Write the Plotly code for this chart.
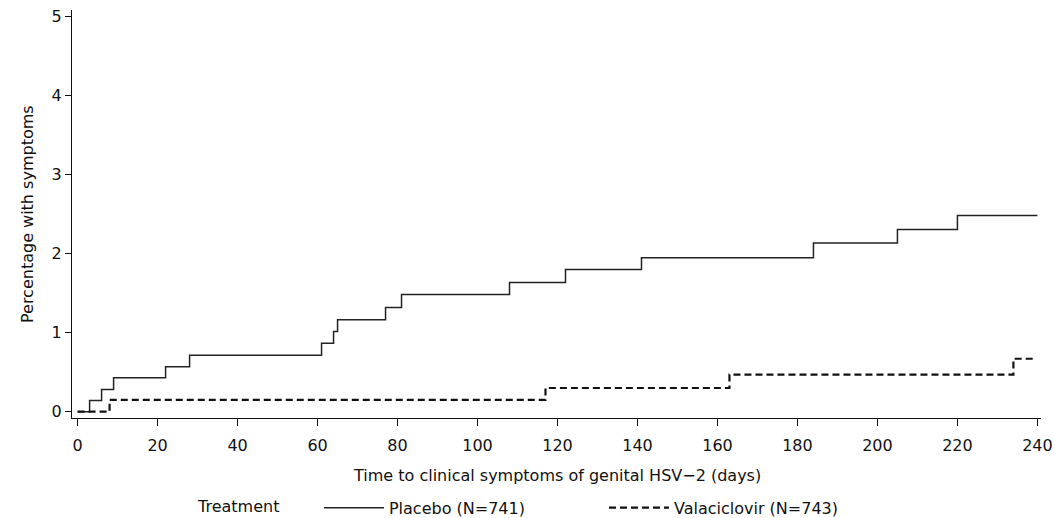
import plotly.graph_objects as go

# Data (Kaplan-Meier style cumulative percentages)
placebo_days = [0, 3, 6, 9, 22, 28, 61, 64, 65, 77, 81, 108, 122, 141, 184, 205, 220, 240]
placebo_pct = [0, 0.14, 0.28, 0.43, 0.57, 0.715, 0.865, 1.015, 1.165, 1.32, 1.485, 1.635, 1.80, 1.95, 2.135, 2.305, 2.485, 2.485]

valaciclovir_days = [0, 8, 117, 163, 234, 239]
valaciclovir_pct = [0, 0.15, 0.30, 0.47, 0.67, 0.67]

x_ticks = [0, 20, 40, 60, 80, 100, 120, 140, 160, 180, 200, 220, 240]
y_ticks = [0, 1, 2, 3, 4, 5]

x_title = "Time to clinical symptoms of genital HSV\u22122 (days)"
y_title = "Percentage with symptoms"
legend_title = "Treatment"

FONT = "DejaVu Sans"

fig = go.Figure()
fig.add_trace(go.Scatter(
    x=placebo_days, y=placebo_pct, mode="lines", line_shape="hv",
    name="Placebo (N=741)", line=dict(color="#222222", width=1.5)))
fig.add_trace(go.Scatter(
    x=valaciclovir_days, y=valaciclovir_pct, mode="lines", line_shape="hv",
    name="Valaciclovir (N=743)", line=dict(color="#111111", width=2.2, dash="7px,4px")))

fig.update_layout(
    width=1055, height=518,
    margin=dict(l=72, r=14, t=10, b=100, autoexpand=False),
    paper_bgcolor="white", plot_bgcolor="white",
    font=dict(family=FONT, size=16, color="#111111"),
    showlegend=True,
    legend=dict(
        orientation="h", x=0.128, xanchor="left", y=-0.22, yanchor="middle",
        title=dict(text=legend_title + "      ", side="left", font=dict(size=16)),
        itemwidth=60, entrywidth=210, entrywidthmode="pixels",
        font=dict(size=16), bgcolor="rgba(0,0,0,0)",
        itemclick=False, itemdoubleclick=False,
    ),
    annotations=[
        dict(text=x_title, xref="paper", yref="paper", x=0.5, y=-0.141,
             xanchor="center", yanchor="middle", showarrow=False,
             font=dict(size=16)),
        dict(text=y_title, xref="paper", yref="paper", x=-0.0464, y=0.5,
             xanchor="center", yanchor="middle", showarrow=False, textangle=-90,
             font=dict(size=16)),
    ],
)

fig.update_xaxes(
    range=[-1.4, 240.9], tickvals=x_ticks, ticktext=[str(v) for v in x_ticks],
    showline=True, linecolor="#111111", linewidth=1.2, mirror=False,
    ticks="outside", ticklen=7, tickwidth=1, tickcolor="#111111",
    ticklabelstandoff=6, automargin=False,
    showgrid=False, zeroline=False,
)
fig.update_yaxes(
    range=[-0.08, 5.085], tickvals=y_ticks, ticktext=[str(v) for v in y_ticks],
    showline=True, linecolor="#111111", linewidth=1.2, mirror=False,
    ticks="outside", ticklen=6, tickwidth=1, tickcolor="#111111",
    automargin=False,
    showgrid=False, zeroline=False,
)

fig.write_html(
    "out.html",
    config={"displayModeBar": False, "staticPlot": False},
    post_script="document.body.style.margin='0px'; document.body.style.overflow='hidden';",
)
